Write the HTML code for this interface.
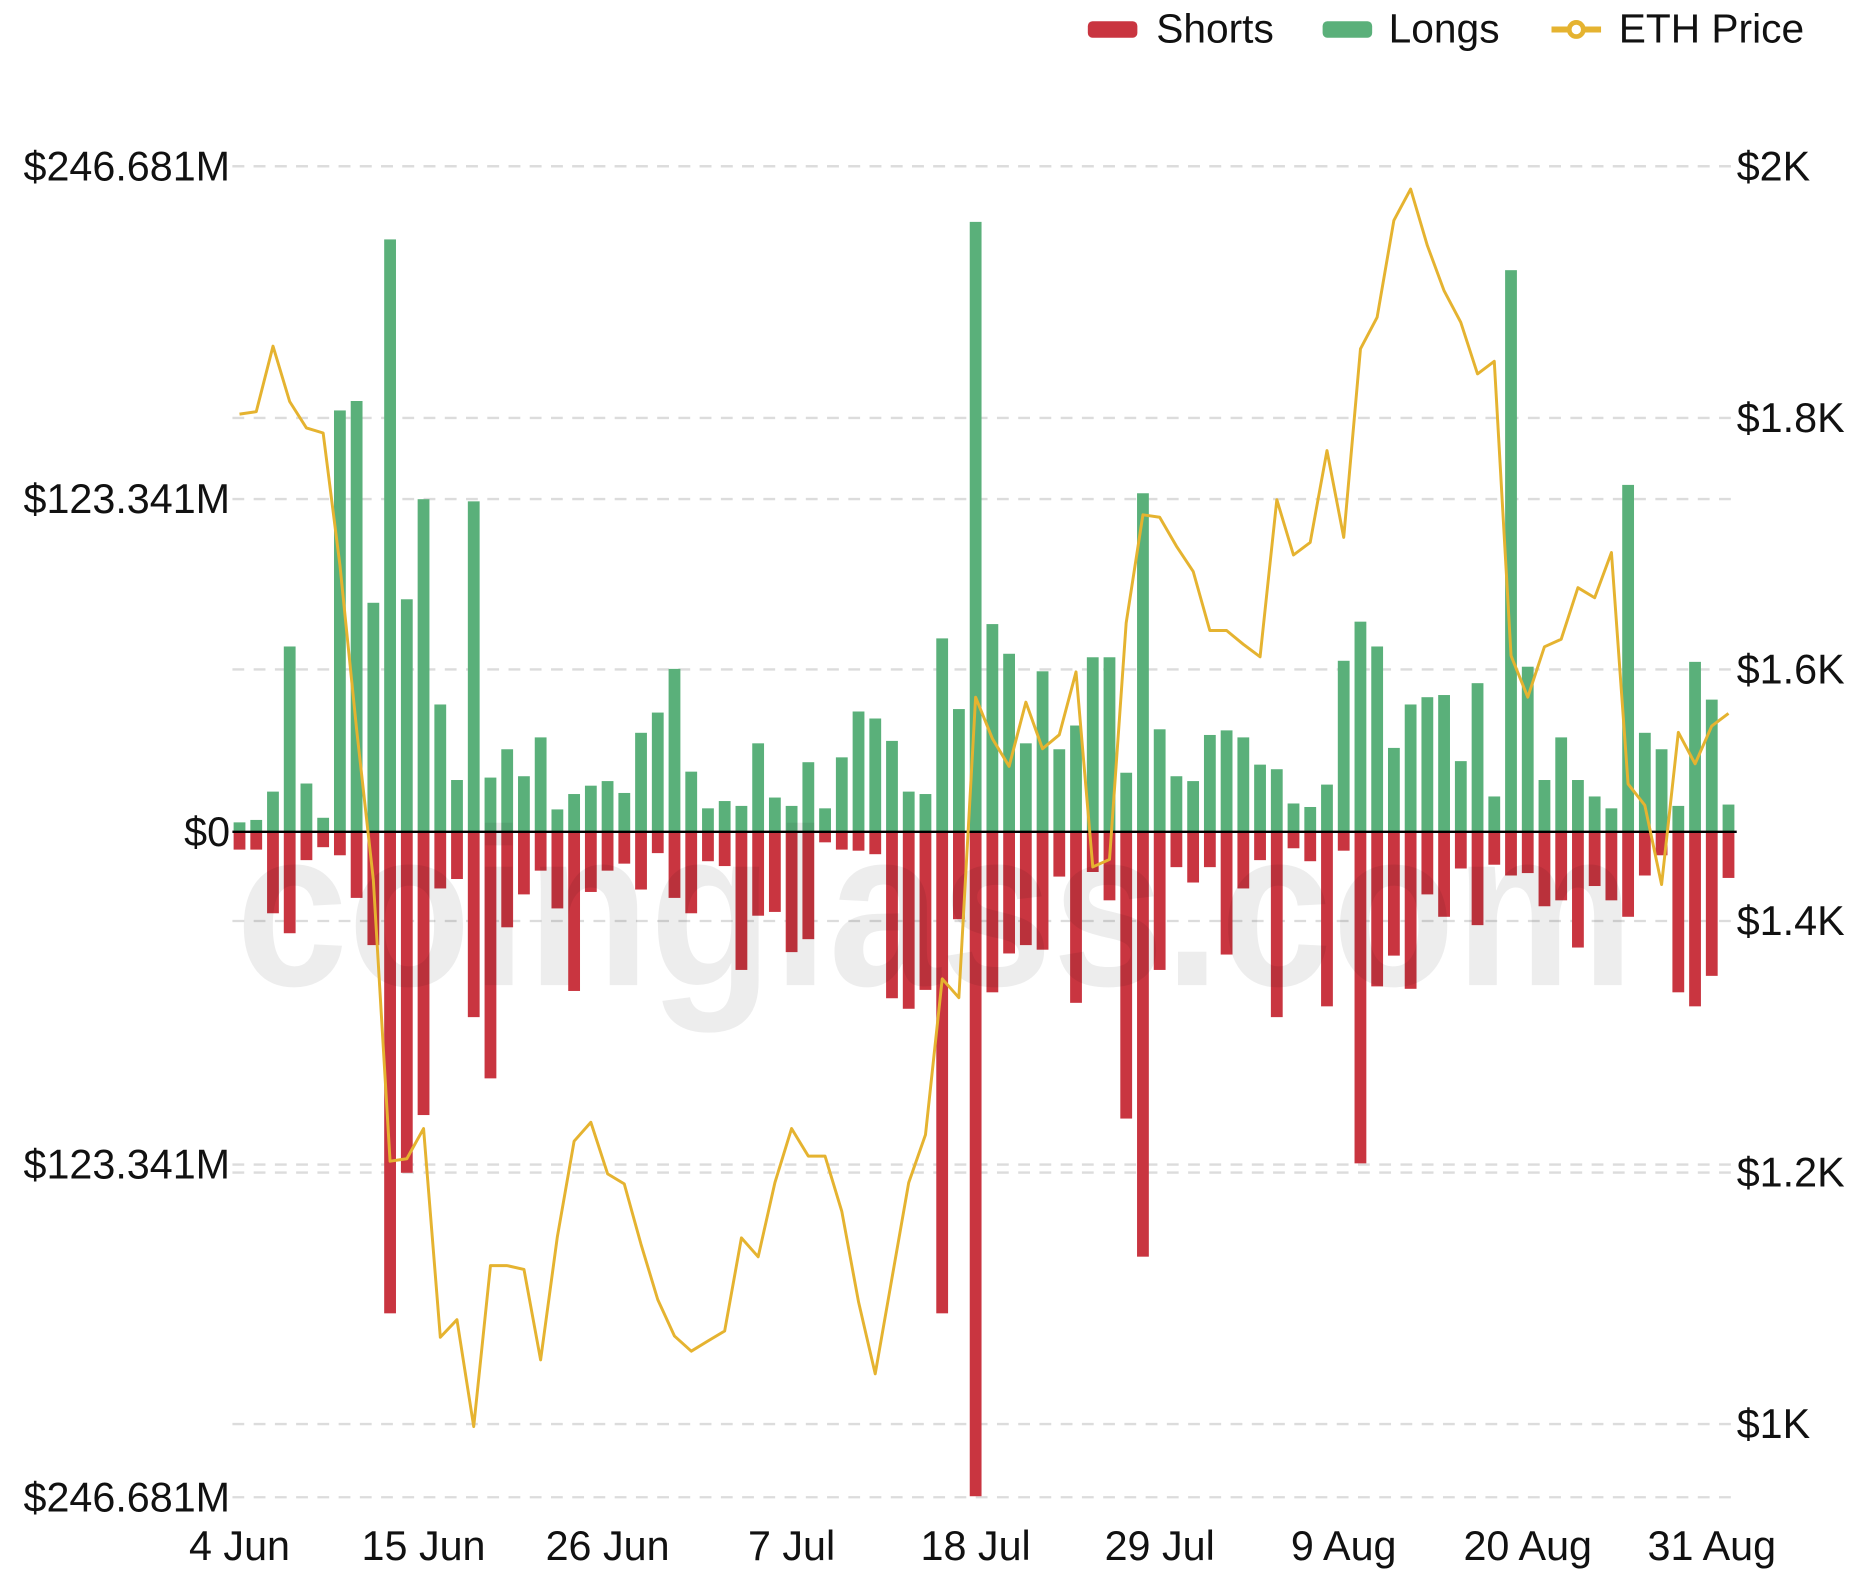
<!DOCTYPE html>
<html><head><meta charset="utf-8"><style>
html,body{margin:0;padding:0;background:#fff;}
svg{display:block;font-family:"Liberation Sans",Arial,sans-serif;}
</style></head><body>
<svg id="chart" width="1850" height="1594" viewBox="0 0 1568 1351" preserveAspectRatio="none" xmlns="http://www.w3.org/2000/svg">
<g id="legend">
  <g>
    <rect x="922" y="18" width="42" height="14" rx="4" fill="#c93540"/>
    <text x="980" y="36" font-size="34.5" fill="#111">Shorts</text>
  </g>
  <g>
    <rect x="1121" y="18" width="42" height="14" rx="4" fill="#5ab07a"/>
    <text x="1177" y="36" font-size="34.5" fill="#111">Longs</text>
  </g>
  <g>
    <line x1="1315" y1="25" x2="1357" y2="25" stroke="#e5b330" stroke-width="5"/>
    <circle cx="1336" cy="25" r="6" fill="#fff" stroke="#e5b330" stroke-width="4"/>
    <text x="1372" y="36" font-size="34.5" fill="#111">ETH Price</text>
  </g>
</g>
<g id="grid"></g>
<g id="bars"></g>
<text x="200" y="835" font-size="190" font-weight="bold" fill="rgba(0,0,0,0.07)" textLength="1185" lengthAdjust="spacingAndGlyphs">coinglass.com</text>
<line x1="197" y1="705" x2="1472" y2="705" stroke="#000" stroke-width="2"/>
<g id="line"></g>
<g id="axes"></g>
</svg>
<script>
const dates = ["4 Jun","15 Jun","26 Jun","7 Jul","18 Jul","29 Jul","9 Aug","20 Aug","31 Aug"];
const leftTicks = [246.681,123.341,0,-123.341,-246.681];
const leftTickLabels = ["$246.681M","$123.341M","$0","$123.341M","$246.681M"];
const rightTicks = [2000,1800,1600,1400,1200,1000];
const rightTickLabels = ["$2K","$1.8K","$1.6K","$1.4K","$1.2K","$1K"];
const longs = [3.5,4.4,14.9,68.7,17.9,5.2,156.2,159.7,84.9,219.6,
86.2,123.3,47.2,19.2,122.5,20.1,30.6,20.6,35,8.3,
14,17.1,18.8,14.4,36.7,44.2,60.4,22.3,8.7,11.4,
9.6,32.8,12.7,9.6,25.8,8.7,27.6,44.6,42,33.7,
14.9,14,71.7,45.5,226.1,77,66,32.8,59.5,30.6,
39.4,64.7,64.7,21.9,125.5,38,20.6,18.8,35.9,37.6,
35,24.9,23.2,10.5,9.2,17.5,63.4,77.9,68.7,31.1,
47.2,49.9,50.7,26.2,55.1,13.1,208.2,61.2,19.2,35,
19.2,13.1,8.7,128.6,36.7,30.6,9.6,63,49,10.1];
const shorts = [6.6,6.6,30.2,37.6,10.5,5.7,8.7,24.5,42,178.5,
126.4,105,21,17.5,68.7,91.4,35.4,23.2,14.4,28.4,
59,22.3,14.4,11.8,21.4,7.9,24.5,30.2,10.9,12.7,
51.2,31.1,29.7,44.6,39.8,3.9,6.6,7,8.3,61.7,
65.6,58.6,178.5,32.4,246.3,59.5,45.1,42,43.7,16.6,
63.4,14.9,25.4,106.3,157.5,51.2,13.1,18.8,13.1,45.5,
21,10.5,68.7,6.1,10.9,64.7,7,122.9,57.3,45.9,
58.2,23.2,31.5,13.6,34.6,12.2,16.2,15.3,27.6,25.4,
42.9,20.1,25.4,31.5,16.2,8.7,59.5,64.7,53.4,17.1];
const price = [1803,1805,1857,1813,1792,1788,1683,1552,1433,1209,
1211,1235,1069,1083,998,1126,1126,1123,1051,1149,
1225,1240,1199,1191,1143,1099,1070,1058,1066,1074,
1148,1133,1192,1235,1213,1213,1169,1097,1040,1116,
1192,1230,1354,1339,1578,1545,1523,1574,1537,1548,
1598,1443,1449,1637,1723,1721,1698,1678,1631,1631,
1620,1610,1735,1691,1701,1774,1705,1855,1880,1957,
1982,1937,1901,1876,1835,1845,1611,1578,1618,1624,
1665,1657,1693,1509,1492,1429,1550,1525,1555,1565];

const NS="http://www.w3.org/2000/svg";
const x = i => 203 + i*14.18;
const yL = v => 705 - v*(564/246.681);
const yR = p => 141 + (2000-p)*(1066/1000);
function mk(tag, attrs, parent){const e=document.createElementNS(NS,tag);for(const k in attrs)e.setAttribute(k,attrs[k]);parent.appendChild(e);return e;}
const grid=document.getElementById('grid'), bars=document.getElementById('bars'), axes=document.getElementById('axes'), lineG=document.getElementById('line');

leftTicks.forEach((t,k)=>{
  if(t!==0){const g=mk('line',{x1:197,x2:1470,y1:yL(t),y2:yL(t),stroke:'#dcdcdc','stroke-width':2,'stroke-dasharray':'10 8'},grid);
  
  }
  const tx=mk('text',{x:195,y:yL(t)+12,'font-size':35,'text-anchor':'end',fill:'#111'},axes);
  tx.textContent=leftTickLabels[k];
  
  
});
rightTicks.forEach((t,k)=>{
  const g=mk('line',{x1:197,x2:1470,y1:yR(t),y2:yR(t),stroke:'#dcdcdc','stroke-width':2,'stroke-dasharray':'10 8'},grid);
  
  
  const tx=mk('text',{x:1472,y:yR(t)+12,'font-size':35,fill:'#111'},axes);
  tx.textContent=rightTickLabels[k];
  
  
});
dates.forEach((d,k)=>{
  const tx=mk('text',{x:x(k*11),y:1322,'font-size':35,'text-anchor':'middle',fill:'#111'},axes);
  tx.textContent=d;
  
  
});
const bw=10;
longs.forEach((v,i)=>{
  const r=mk('rect',{x:x(i)-bw/2,y:yL(v),width:bw,height:705-yL(v),fill:'#5ab07a'},bars);
  
  
});
shorts.forEach((v,i)=>{
  const r=mk('rect',{x:x(i)-bw/2,y:705,width:bw,height:yL(-v)-705,fill:'#c93540'},bars);
  
  
});
const pts=price.map((p,i)=>x(i).toFixed(1)+','+yR(p).toFixed(1)).join(' ');
const pl=mk('polyline',{points:pts,fill:'none',stroke:'#e5b330','stroke-width':2.5,'stroke-linejoin':'round'},lineG);


</script>
</body></html>
